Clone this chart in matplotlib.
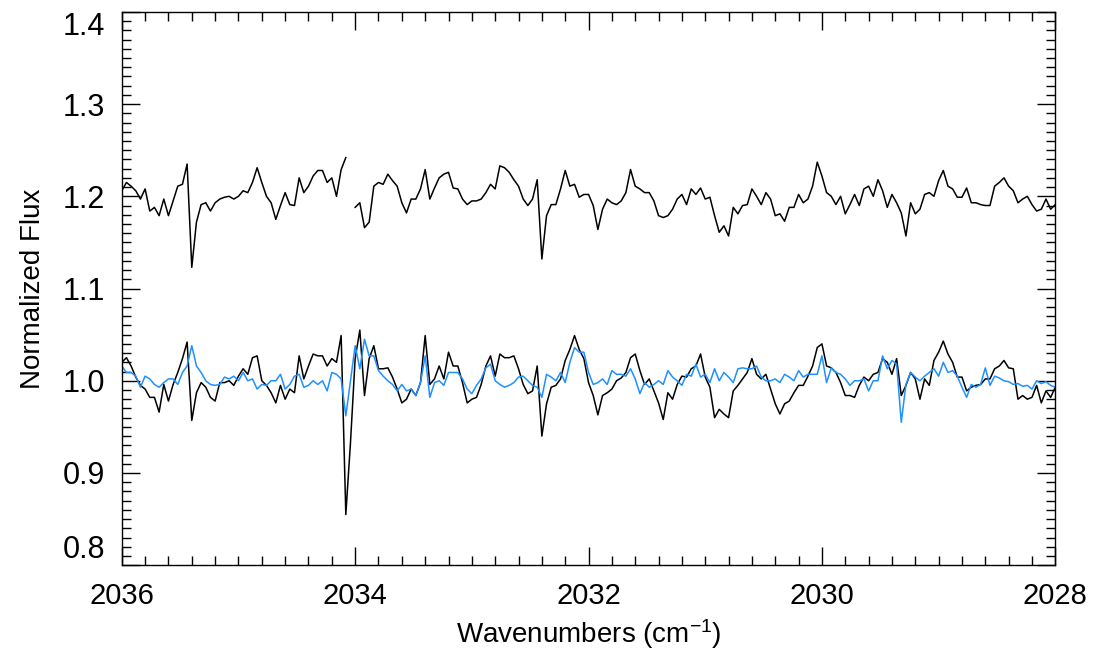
import numpy as np
import matplotlib
matplotlib.use("Agg")
import matplotlib.pyplot as plt
from matplotlib.ticker import MultipleLocator

plt.rcParams['font.family'] = ['Liberation Sans', 'DejaVu Sans']
plt.rcParams['mathtext.default'] = 'regular'

# wavenumber sampling grid (cm^-1), 2036 -> 2028
wn_start, wn_stop, n_pts = 2036.0, 2028.0, 201
wavenumber = np.linspace(wn_start, wn_stop, n_pts)

nan = np.nan
# upper (offset) spectrum, with a gap near 2034.04
top_flux = [
    1.206, 1.215, 1.211, 1.206, 1.197, 1.208, 1.184, 1.188, 1.179, 1.197, 1.179, 1.195, 1.211, 1.213, 1.235, 1.123, 1.172,
    1.191, 1.193, 1.184, 1.193, 1.197, 1.199, 1.200, 1.197, 1.200, 1.206, 1.204, 1.215, 1.231, 1.215, 1.200, 1.193, 1.175,
    1.190, 1.204, 1.191, 1.190, 1.220, 1.204, 1.211, 1.222, 1.228, 1.228, 1.215, 1.220, 1.200, 1.229, 1.242, nan, 1.188,
    1.193, 1.166, 1.172, 1.211, 1.215, 1.213, 1.224, 1.217, 1.211, 1.193, 1.182, 1.197, 1.197, 1.208, 1.229, 1.197,
    1.209, 1.220, 1.224, 1.226, 1.209, 1.208, 1.197, 1.191, 1.195, 1.195, 1.197, 1.204, 1.213, 1.208, 1.233, 1.231, 1.226,
    1.218, 1.211, 1.197, 1.190, 1.197, 1.218, 1.132, 1.179, 1.191, 1.191, 1.208, 1.228, 1.211, 1.213, 1.199, 1.202,
    1.202, 1.190, 1.164, 1.186, 1.197, 1.193, 1.191, 1.195, 1.204, 1.229, 1.211, 1.208, 1.204, 1.204, 1.195, 1.179, 1.177,
    1.179, 1.186, 1.197, 1.202, 1.191, 1.208, 1.202, 1.209, 1.197, 1.199, 1.179, 1.161, 1.168, 1.157, 1.188, 1.181, 1.190,
    1.191, 1.208, 1.200, 1.191, 1.204, 1.197, 1.179, 1.181, 1.173, 1.188, 1.188, 1.202, 1.193, 1.197, 1.211, 1.237, 1.222,
    1.204, 1.200, 1.191, 1.200, 1.181, 1.191, 1.202, 1.190, 1.208, 1.211, 1.200, 1.218, 1.206, 1.188, 1.202, 1.193,
    1.182, 1.157, 1.193, 1.181, 1.186, 1.202, 1.204, 1.200, 1.217, 1.228, 1.211, 1.208, 1.199, 1.199, 1.209, 1.193, 1.193,
    1.191, 1.190, 1.190, 1.211, 1.215, 1.220, 1.211, 1.206, 1.193, 1.197, 1.200, 1.191, 1.184, 1.186, 1.197, 1.186, 1.191,
]

# lower black spectrum
black_flux = [
    1.020, 1.025, 1.016, 1.004, 0.995, 0.991, 0.982, 0.982, 0.966, 0.996, 0.978, 0.996, 1.009, 1.024, 1.042, 0.957, 0.987,
    0.998, 0.993, 0.982, 0.978, 0.998, 0.998, 1.000, 0.995, 1.005, 1.013, 1.007, 1.025, 1.027, 1.000, 0.995, 0.987, 0.976,
    0.995, 0.980, 0.991, 0.987, 1.027, 1.002, 1.016, 1.029, 1.027, 1.027, 1.016, 1.024, 1.020, 1.049, 0.855, 0.933, 1.024,
    1.055, 0.984, 1.024, 1.038, 1.013, 1.013, 1.014, 1.004, 0.991, 0.976, 0.980, 0.991, 0.984, 0.998, 1.049, 0.996,
    1.002, 1.016, 1.002, 1.031, 1.016, 1.016, 0.998, 0.976, 0.980, 0.982, 0.996, 1.016, 1.027, 1.005, 1.029, 1.025, 1.025,
    1.027, 1.013, 0.996, 0.986, 0.989, 1.016, 0.940, 0.975, 0.993, 0.995, 1.002, 1.022, 1.034, 1.049, 1.034, 1.024,
    0.998, 0.984, 0.963, 0.984, 0.987, 0.991, 1.000, 1.003, 1.009, 1.025, 1.029, 1.011, 0.996, 1.002, 0.989, 0.976, 0.958,
    0.987, 0.980, 0.996, 1.005, 1.004, 1.013, 1.016, 1.029, 1.004, 0.993, 0.960, 0.969, 0.964, 0.960, 0.989, 0.995, 1.002,
    1.009, 1.024, 1.007, 1.002, 1.007, 0.991, 0.975, 0.964, 0.975, 0.978, 0.987, 0.995, 0.995, 1.005, 1.016, 1.036, 1.040,
    1.016, 1.014, 1.009, 0.998, 0.984, 0.984, 0.982, 0.995, 1.004, 1.000, 1.007, 1.009, 1.024, 1.020, 1.007, 1.024,
    0.984, 0.995, 1.009, 1.002, 0.980, 1.002, 0.995, 1.022, 1.031, 1.043, 1.029, 1.020, 1.004, 1.004, 0.989, 0.993, 0.995,
    0.996, 1.002, 1.002, 1.013, 1.016, 1.022, 1.014, 1.013, 0.980, 0.984, 0.980, 0.982, 0.995, 0.976, 0.989, 0.982, 0.993,
]

# lower blue spectrum
blue_flux = [
    1.016, 1.009, 1.009, 1.005, 0.993, 1.005, 1.002, 0.996, 0.993, 0.998, 1.002, 1.002, 0.996, 1.009, 1.016, 1.038, 1.016,
    1.009, 1.000, 0.996, 0.995, 0.996, 1.004, 1.002, 1.005, 1.000, 1.009, 1.000, 1.002, 0.991, 0.996, 0.995, 1.000, 1.000,
    1.007, 0.991, 0.996, 1.005, 1.007, 0.993, 0.995, 1.000, 0.996, 1.000, 0.989, 1.009, 1.007, 1.002, 0.962, 1.000, 1.038,
    1.013, 1.045, 1.027, 1.027, 1.011, 1.005, 1.000, 0.996, 0.989, 0.996, 0.989, 0.991, 0.984, 0.998, 1.027, 0.982,
    0.998, 1.000, 0.995, 1.009, 1.009, 1.009, 1.002, 0.991, 0.986, 0.995, 1.002, 1.014, 1.018, 1.000, 0.996, 0.993, 0.995,
    0.998, 1.004, 1.005, 1.000, 0.995, 0.993, 0.982, 1.007, 1.004, 1.000, 1.009, 0.998, 1.020, 1.036, 1.031, 1.031,
    1.009, 0.996, 0.998, 1.002, 0.996, 1.011, 1.007, 1.007, 1.005, 1.013, 1.002, 0.986, 0.998, 0.993, 0.996, 1.000, 0.996,
    1.011, 1.004, 1.000, 0.995, 1.007, 1.005, 1.018, 1.004, 1.007, 0.998, 1.013, 1.000, 1.009, 1.004, 0.998, 1.013, 1.014,
    1.013, 1.013, 1.016, 1.004, 1.000, 1.000, 1.002, 0.998, 1.007, 1.004, 1.000, 1.011, 1.004, 1.007, 1.007, 1.007, 1.027,
    0.998, 1.014, 1.009, 1.007, 1.002, 0.995, 1.000, 1.000, 1.002, 0.989, 1.000, 1.000, 1.027, 1.013, 1.022, 1.018,
    0.955, 0.996, 1.009, 1.004, 1.000, 1.005, 1.009, 1.013, 1.005, 1.020, 1.009, 1.011, 1.005, 0.993, 0.982, 0.996, 0.993,
    0.996, 1.014, 0.995, 1.005, 1.003, 1.000, 0.999, 0.996, 0.997, 0.994, 0.995, 0.991, 1.000, 0.997, 0.999, 0.995, 0.993,
]

x_ticks = [2036, 2034, 2032, 2030, 2028]
y_ticks = [0.8, 0.9, 1.0, 1.1, 1.2, 1.3, 1.4]

fig = plt.figure(figsize=(10.97, 6.58), dpi=100)
ax = fig.add_axes([0.111, 0.141, 0.851, 0.841])

ax.plot(wavenumber, top_flux, color='black', lw=1.1)
ax.plot(wavenumber, black_flux, color='black', lw=1.1)
ax.plot(wavenumber, blue_flux, color='#1E90FF', lw=1.1)

ax.set_xlim(2036, 2028)
ax.set_ylim(0.8, 1.4)
ax.set_xticks(x_ticks)
ax.set_xticklabels([str(t) for t in x_ticks])
ax.set_yticks(y_ticks)
ax.set_yticklabels([f"{t:.1f}" for t in y_ticks])
ax.xaxis.set_minor_locator(MultipleLocator(0.2))
ax.yaxis.set_minor_locator(MultipleLocator(0.01))

ax.tick_params(which='both', direction='in', top=True, right=True, width=1.0, color='black')
ax.tick_params(axis='y', labelsize=22, pad=12)
ax.tick_params(axis='x', labelsize=21, pad=12)
ax.tick_params(which='major', length=13)
ax.tick_params(which='minor', length=6.5)
for s in ax.spines.values():
    s.set_linewidth(1.0)

ylabels = ax.get_yticklabels()
ylabels[0].set_verticalalignment('bottom')
ylabels[-1].set_verticalalignment('top')

ax.set_xlabel(r'Wavenumbers (cm$^{-1}$)', fontsize=20, labelpad=5)
ax.set_ylabel('Normalized Flux', fontsize=20, labelpad=12)

fig.savefig('out.png', dpi=100)
